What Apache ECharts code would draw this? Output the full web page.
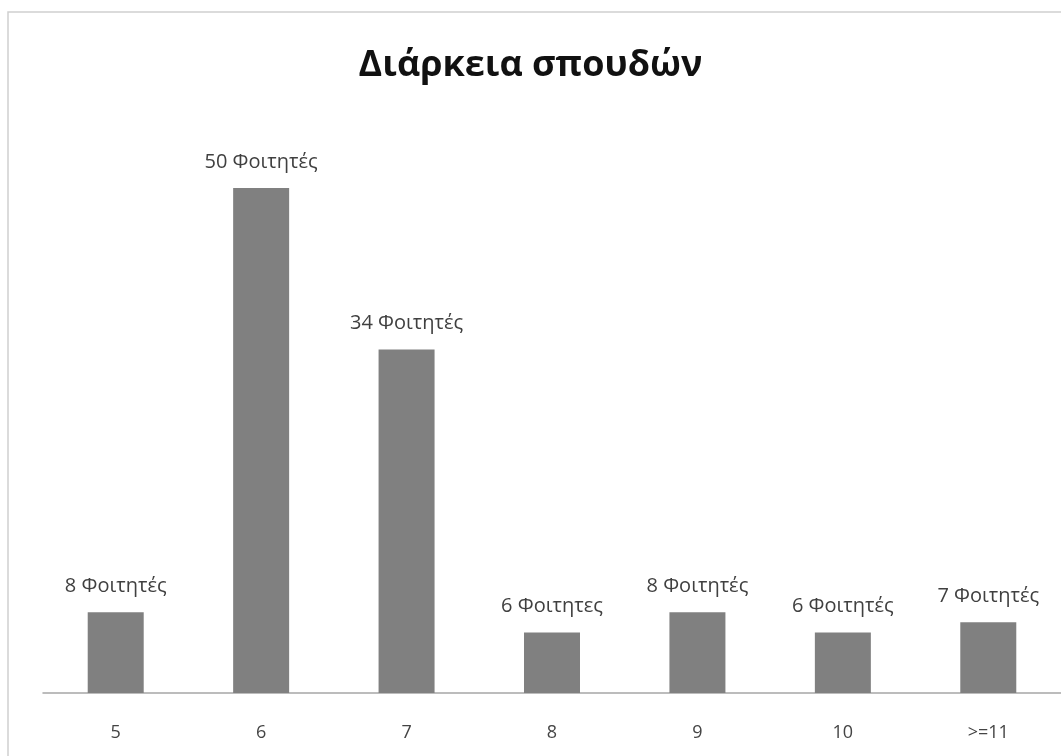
<!DOCTYPE html>
<html>
<head>
<meta charset="utf-8">
<script src="https://cdn.jsdelivr.net/npm/echarts@6/dist/echarts.min.js"></script>
<style>
html,body{margin:0;padding:0;background:#fff;}
#chart{width:1061px;height:756px;}
</style>
</head>
<body>
<div id="chart"></div>
<script>
const title = 'Διάρκεια σπουδών';
const categories = ['5', '6', '7', '8', '9', '10', '>=11'];
const students = [8, 50, 34, 6, 8, 6, 7];
const barLabels = ['8 Φοιτητές', '50 Φοιτητές', '34 Φοιτητές', '6 Φοιτητες', '8 Φοιτητές', '6 Φοιτητές', '7 Φοιτητές'];

const chart = echarts.init(document.getElementById('chart'), null, {renderer: 'canvas'});
chart.setOption({
  backgroundColor: '#ffffff',
  animation: false,
  title: {
    text: title,
    left: 'center',
    top: 43,
    textStyle: {fontFamily: 'Open Sans', fontSize: 36, fontWeight: 'bold', color: '#111111'}
  },
  graphic: [{
    type: 'rect',
    shape: {x: 8, y: 12, width: 1070, height: 760},
    style: {fill: 'none', stroke: '#d0d0d0', lineWidth: 1.5},
    silent: true
  }],
  grid: {left: 43, width: 1022, top: 188, bottom: 63, containLabel: false},
  xAxis: {
    type: 'category',
    data: categories,
    axisLine: {lineStyle: {color: '#a6a6a6', width: 1.5}},
    axisTick: {show: false},
    axisLabel: {margin: 31, fontFamily: 'Open Sans', fontSize: 18, color: '#444444'}
  },
  yAxis: {
    type: 'value',
    min: 0,
    max: 50,
    show: false,
    splitLine: {show: false}
  },
  series: [{
    type: 'bar',
    data: students,
    barWidth: 56,
    itemStyle: {color: '#808080'},
    label: {
      show: true,
      position: 'top',
      distance: 16,
      fontFamily: 'Open Sans',
      fontSize: 20,
      color: '#404040',
      formatter: p => barLabels[p.dataIndex]
    }
  }]
});
</script>
</body>
</html>
